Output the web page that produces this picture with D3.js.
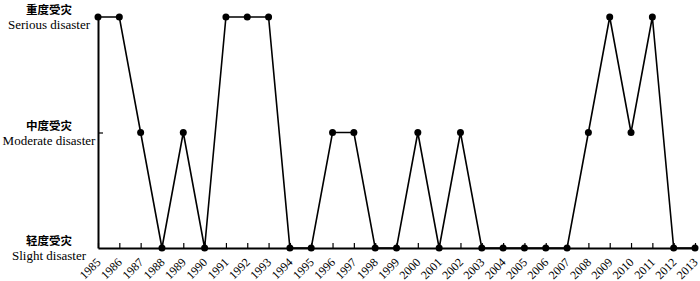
<!DOCTYPE html>
<html>
<head>
<meta charset="utf-8">
<script src="https://cdn.jsdelivr.net/npm/d3@7"></script>
<style>
  body { margin: 0; background: #fff; }
  text { font-family: "Liberation Serif", "Times New Roman", serif; fill: #000; }
  .cn { font-family: "Noto Sans CJK SC", sans-serif; }
</style>
</head>
<body>
<div id="chart"></div>
<script>
// Data
const years = d3.range(1985, 2014);
// 0 = slight, 1 = moderate, 2 = serious
const levels = [2, 2, 1, 0, 1, 0, 2, 2, 2, 0, 0, 1, 1, 0, 0, 1, 0, 1, 0, 0, 0, 0, 0, 1, 2, 1, 2, 0, 0];
const levelNamesCn = ['轻度受灾', '中度受灾', '重度受灾'];
const levelNamesEn = ['Slight disaster', 'Moderate disaster', 'Serious disaster'];

const width = 700;
const height = 281;
const margin = { t: 17, r: 5, b: 33, l: 98 };

const svg = d3
  .select('#chart')
  .append('svg')
  .attr('width', width)
  .attr('height', height);

const xScale = d3.scaleLinear([1985, 2013], [margin.l, width - margin.r]);
const yScale = d3.scaleLinear([0, 2], [height - margin.b, margin.t]);

// x axis, ticks pointing up
const xAxis = svg
  .append('g')
  .attr('transform', `translate(0, ${yScale(0)})`)
  .call(d3.axisBottom(xScale).tickValues(years).tickFormat(d3.format('d')).tickSize(-5).tickSizeOuter(0));
xAxis.select('.domain').attr('stroke-width', 2);
xAxis.selectAll('.tick line').attr('stroke-width', 1.2);
xAxis
  .selectAll('text')
  .attr('font-size', 12)
  .attr('font-family', '"Liberation Serif", serif')
  .attr('text-anchor', 'end')
  .attr('y', 0)
  .attr('dy', 0)
  .attr('transform', 'translate(3, 15) rotate(-45)');

// y axis, tick pointing right
const yAxis = svg
  .append('g')
  .attr('transform', `translate(${margin.l}, 0)`)
  .call(d3.axisLeft(yScale).tickValues([1]).tickSize(-5).tickSizeOuter(0).tickFormat(''));
yAxis.select('.domain').attr('stroke-width', 2);
yAxis.selectAll('.tick line').attr('stroke-width', 1.2);

// level labels
const lab = svg.append('g');
[0, 1, 2].forEach((lv) => {
  const y = yScale(lv);
  lab
    .append('text')
    .attr('class', 'cn')
    .attr('x', 49)
    .attr('y', y - 3)
    .attr('text-anchor', 'middle')
    .attr('font-size', 11.5)
    .attr('font-weight', 'bold')
    .text(levelNamesCn[lv]);
  lab
    .append('text')
    .attr('x', 49)
    .attr('y', y + 12)
    .attr('text-anchor', 'middle')
    .attr('font-size', 13)
    .text(levelNamesEn[lv]);
});

const data = years.map((yr, i) => ({ year: yr, level: levels[i] }));

const line = d3
  .line()
  .x((d) => xScale(d.year))
  .y((d) => yScale(d.level));

svg
  .append('path')
  .datum(data)
  .attr('d', line)
  .attr('fill', 'none')
  .attr('stroke', '#000')
  .attr('stroke-width', 1.6);

svg
  .append('g')
  .selectAll('circle')
  .data(data)
  .join('circle')
  .attr('cx', (d) => xScale(d.year))
  .attr('cy', (d) => yScale(d.level))
  .attr('r', 3.5)
  .attr('fill', '#000');
</script>
</body>
</html>
